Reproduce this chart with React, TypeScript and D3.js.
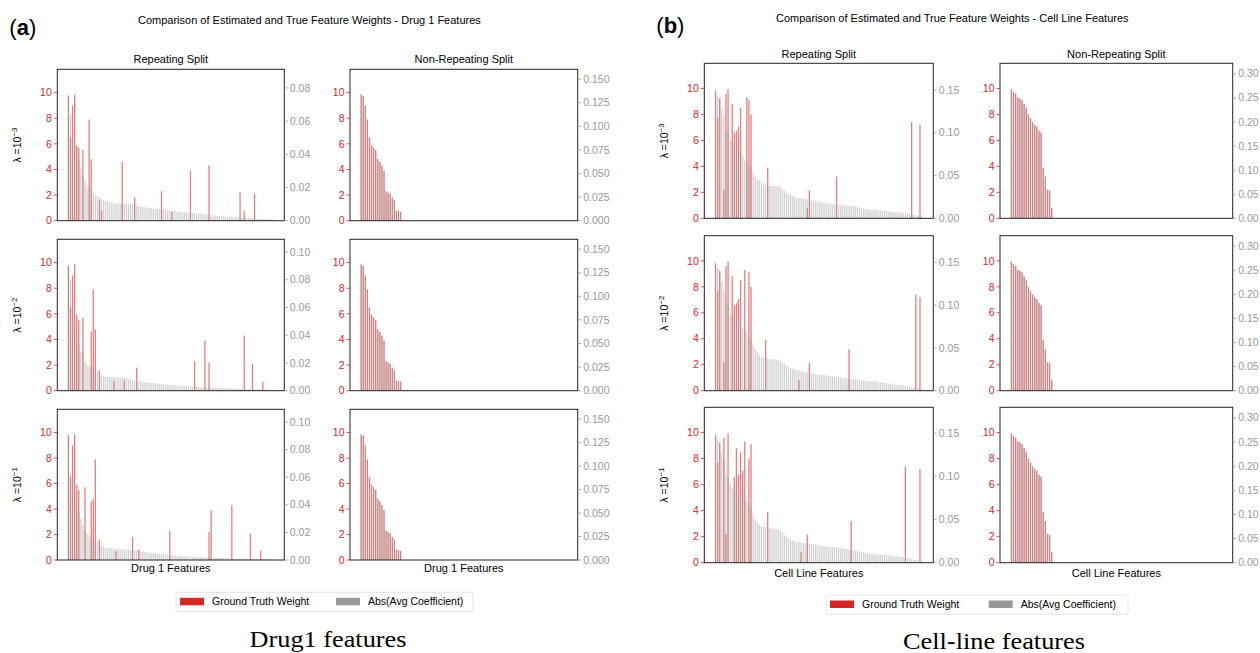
import React from 'react';
import * as d3 from 'd3';

const NUM_FEATURES = 100;

// ground-truth weights (sorted), shared by every panel of a feature set
const drugTrueWeights = [9.85, 9.75, 9.0, 7.9, 6.5, 5.9, 5.7, 5.5, 4.8, 4.6, 4.3, 3.9, 2.3, 2.2, 2.1, 1.8, 1.6, 0.8, 0.75, 0.7];
const cellTrueWeights = [9.95, 9.75, 9.6, 9.3, 9.25, 9.1, 8.8, 8.5, 8.0, 7.7, 7.4, 7.2, 7.05, 6.75, 6.6, 3.9, 3.2, 2.2, 2.15, 0.8];

// rank position of each true feature in the sorted coefficient order
const drugRepPos1 = [3, 0, 2, 10, 1, 4, 5, 7, 11, 26, 68, 59, 45, 83, 90, 32, 15, 16, 85, 50];
const drugRepPos2 = [3, 0, 2, 12, 1, 4, 7, 5, 13, 11, 85, 66, 61, 68, 89, 33, 15, 27, 22, 94];
const drugRepPos3 = [3, 0, 2, 13, 1, 4, 8, 5, 12, 11, 79, 69, 49, 68, 88, 31, 15, 34, 93, 23];
const cellRepPos1 = [6, 0, 5, 15, 2, 16, 8, 12, 17, 1, 94, 98, 11, 10, 9, 25, 58, 4, 45, 44];
const cellRepPos2 = [6, 0, 5, 14, 2, 16, 8, 12, 17, 1, 96, 98, 11, 10, 9, 24, 64, 4, 45, 40];
const cellRepPos3 = [6, 0, 4, 14, 2, 17, 10, 12, 16, 1, 91, 98, 13, 11, 9, 25, 65, 5, 44, 41];
const nonRepPos = [0, 1, 2, 3, 4, 5, 6, 7, 8, 9, 10, 11, 12, 13, 14, 15, 16, 17, 18, 19];

// abs(avg coefficient), sorted descending
const drugRepCoef1 = [
  0.076, 0.064, 0.050, 0.046, 0.044, 0.038, 0.032, 0.027, 0.024, 0.021,
  0.020, 0.018, 0.017, 0.0155, 0.015, 0.014, 0.013, 0.0125, 0.012, 0.0115,
  0.011, 0.0106, 0.0105, 0.0105, 0.0104, 0.0104, 0.0103, 0.0103, 0.0102, 0.0102,
  0.0101, 0.0099, 0.0094, 0.0091, 0.0088, 0.0086, 0.0084, 0.0082, 0.0080, 0.0078,
  0.0076, 0.0075, 0.0073, 0.0071, 0.0070, 0.0068, 0.0067, 0.0065, 0.0063, 0.0062,
  0.0060, 0.0059, 0.0057, 0.0056, 0.0054, 0.0053, 0.0052, 0.0050, 0.0049, 0.0048,
  0.0046, 0.0045, 0.0043, 0.0042, 0.0040, 0.0039, 0.0037, 0.0036, 0.0035, 0.0033,
  0.0032, 0.0031, 0.0030, 0.0029, 0.0028, 0.0027, 0.0026, 0.0025, 0.0024, 0.0023,
  0.0022, 0.0021, 0.0020, 0.0019, 0.0018, 0.0017, 0.0016, 0.0015, 0.0014, 0.0013,
  0.0012, 0.0011, 0.0011, 0.0010, 0.0010, 0.0009, 0.0009, 0.0008, 0.0008, 0.0007,
];
const drugRepCoef2 = [
  0.091, 0.080, 0.062, 0.046, 0.037, 0.033, 0.028, 0.027, 0.021, 0.019,
  0.018, 0.0165, 0.0154, 0.0145, 0.0135, 0.013, 0.0115, 0.0105, 0.0100, 0.0099,
  0.0098, 0.0098, 0.0097, 0.0097, 0.0096, 0.0096, 0.0095, 0.0094, 0.0092, 0.0089,
  0.0085, 0.0078, 0.0072, 0.0070, 0.0068, 0.0066, 0.0064, 0.0062, 0.0060, 0.0058,
  0.0056, 0.0055, 0.0053, 0.0052, 0.0050, 0.0049, 0.0047, 0.0045, 0.0043, 0.0042,
  0.0041, 0.0040, 0.0038, 0.0037, 0.0036, 0.0035, 0.0034, 0.0033, 0.0032, 0.0031,
  0.0030, 0.0029, 0.0028, 0.0027, 0.0026, 0.0026, 0.0025, 0.0024, 0.0024, 0.0023,
  0.0022, 0.0022, 0.0021, 0.0020, 0.0019, 0.0019, 0.0018, 0.0018, 0.0017, 0.0016,
  0.0016, 0.0015, 0.0015, 0.0014, 0.0014, 0.0013, 0.0012, 0.0012, 0.0011, 0.0011,
  0.0010, 0.0010, 0.0009, 0.0009, 0.0008, 0.0008, 0.0007, 0.0006, 0.0006, 0.0005,
];
const drugRepCoef3 = [
  0.091, 0.062, 0.048, 0.046, 0.036, 0.035, 0.030, 0.025, 0.021, 0.019,
  0.018, 0.017, 0.016, 0.0148, 0.013, 0.012, 0.0105, 0.0097, 0.0092, 0.0087,
  0.0085, 0.0083, 0.0081, 0.0080, 0.0079, 0.0078, 0.0077, 0.0077, 0.0076, 0.0076,
  0.0075, 0.0074, 0.0071, 0.0068, 0.0066, 0.0063, 0.0061, 0.0058, 0.0056, 0.0054,
  0.0052, 0.0050, 0.0048, 0.0046, 0.0045, 0.0043, 0.0041, 0.0039, 0.0038, 0.0036,
  0.0034, 0.0033, 0.0032, 0.0031, 0.0030, 0.0029, 0.0027, 0.0026, 0.0025, 0.0024,
  0.0023, 0.0023, 0.0022, 0.0021, 0.0021, 0.0020, 0.0019, 0.0019, 0.0018, 0.0017,
  0.0016, 0.0016, 0.0015, 0.0015, 0.0014, 0.0013, 0.0013, 0.0012, 0.0011, 0.0010,
  0.0010, 0.0009, 0.0009, 0.0008, 0.0008, 0.0007, 0.0007, 0.0006, 0.0006, 0.0006,
  0.0005, 0.0005, 0.0005, 0.0004, 0.0004, 0.0004, 0.0003, 0.0003, 0.0003, 0.0002,
];
const cellRepCoef1 = [
  0.151, 0.143, 0.140, 0.128, 0.121, 0.103, 0.100, 0.0915, 0.0895, 0.0876,
  0.0818, 0.076, 0.075, 0.072, 0.068, 0.066, 0.062, 0.060, 0.0526, 0.0486,
  0.0447, 0.044, 0.042, 0.041, 0.039, 0.0385, 0.0383, 0.038, 0.0378, 0.0376,
  0.0374, 0.0372, 0.034, 0.032, 0.030, 0.029, 0.027, 0.026, 0.025, 0.024,
  0.0235, 0.0232, 0.0228, 0.0224, 0.022, 0.0215, 0.021, 0.0205, 0.020, 0.0195,
  0.019, 0.0185, 0.0182, 0.0178, 0.0174, 0.017, 0.0166, 0.0162, 0.0158, 0.0155,
  0.0153, 0.0151, 0.0149, 0.0147, 0.0145, 0.0143, 0.0140, 0.0135, 0.0130, 0.0125,
  0.0120, 0.0110, 0.0105, 0.0103, 0.0101, 0.0099, 0.0097, 0.0095, 0.0093, 0.0091,
  0.0089, 0.0087, 0.0085, 0.0083, 0.0080, 0.0077, 0.0075, 0.0072, 0.0070, 0.0068,
  0.0064, 0.0060, 0.0055, 0.0050, 0.0045, 0.0040, 0.0035, 0.0030, 0.0025, 0.0019,
];
const cellRepCoef2 = [
  0.151, 0.144, 0.139, 0.128, 0.118, 0.104, 0.101, 0.0896, 0.088, 0.0865,
  0.080, 0.0768, 0.074, 0.0725, 0.071, 0.0678, 0.064, 0.061, 0.053, 0.0495,
  0.0448, 0.042, 0.0395, 0.038, 0.0375, 0.0372, 0.037, 0.0368, 0.0366, 0.0364,
  0.036, 0.035, 0.0327, 0.031, 0.029, 0.028, 0.0265, 0.025, 0.0245, 0.024,
  0.0235, 0.023, 0.0225, 0.022, 0.0215, 0.021, 0.0205, 0.020, 0.0195, 0.019,
  0.0187, 0.0184, 0.0181, 0.0178, 0.0175, 0.0172, 0.0169, 0.0166, 0.0163, 0.016,
  0.0155, 0.015, 0.0146, 0.0143, 0.014, 0.0137, 0.0134, 0.0131, 0.0128, 0.0125,
  0.0122, 0.0119, 0.0117, 0.0115, 0.0112, 0.011, 0.0107, 0.0104, 0.0101, 0.0098,
  0.0095, 0.0092, 0.0088, 0.0085, 0.0082, 0.0078, 0.0074, 0.007, 0.0066, 0.0062,
  0.0058, 0.0055, 0.0051, 0.0047, 0.0043, 0.0039, 0.0035, 0.0031, 0.0027, 0.0023,
];
const cellRepCoef3 = [
  0.150, 0.1425, 0.136, 0.128, 0.118, 0.1045, 0.0986, 0.0908, 0.087, 0.084,
  0.080, 0.077, 0.075, 0.074, 0.072, 0.070, 0.066, 0.0615, 0.0557, 0.050,
  0.046, 0.044, 0.042, 0.0415, 0.041, 0.0405, 0.040, 0.040, 0.0395, 0.039,
  0.0385, 0.037, 0.0343, 0.032, 0.030, 0.0285, 0.027, 0.026, 0.025, 0.0245,
  0.024, 0.0235, 0.023, 0.0225, 0.022, 0.0218, 0.0215, 0.021, 0.0205, 0.020,
  0.0198, 0.0195, 0.0193, 0.019, 0.0187, 0.0184, 0.0181, 0.0178, 0.0175, 0.0172,
  0.0169, 0.0166, 0.0163, 0.016, 0.0155, 0.015, 0.0145, 0.014, 0.0135, 0.013,
  0.0125, 0.012, 0.0115, 0.011, 0.0106, 0.0102, 0.0099, 0.0097, 0.0095, 0.0093,
  0.0091, 0.009, 0.0088, 0.0086, 0.0083, 0.008, 0.0077, 0.0073, 0.007, 0.0066,
  0.0063, 0.0059, 0.0055, 0.005, 0.0045, 0.0038, 0.0032, 0.0026, 0.002, 0.0015,
];
// non-repeating split: only the true features get a non-zero coefficient
const drugNonRepCoef = [0.1337, 0.1322, 0.1222, 0.1072, 0.0883, 0.0801, 0.0774, 0.0747, 0.0652, 0.0624,
  0.0584, 0.0529, 0.0312, 0.0299, 0.0285, 0.0244, 0.0217, 0.0109, 0.0102, 0.0095];
const cellNonRepCoef = [0.268, 0.2626, 0.2586, 0.2505, 0.2492, 0.2451, 0.237, 0.229, 0.2155, 0.2074,
  0.1993, 0.1939, 0.1899, 0.1818, 0.1778, 0.105, 0.0862, 0.0593, 0.0579, 0.0215];

const leftTicks = [0, 2, 4, 6, 8, 10];
const drugRepTicks1 = [0, 0.02, 0.04, 0.06, 0.08];
const drugRepTicks23 = [0, 0.02, 0.04, 0.06, 0.08, 0.1];
const drugNonRepTicks = [0, 0.025, 0.05, 0.075, 0.1, 0.125, 0.15];
const cellRepTicks = [0, 0.05, 0.1, 0.15];
const cellNonRepTicks = [0, 0.05, 0.1, 0.15, 0.2, 0.25, 0.3];
const lambdaExps = ['\u22123', '\u22122', '\u22121'];

const RED = '#d62728';
const GRAY = '#999999';
const FONT = 'Liberation Sans, Arial, sans-serif';
const SERIF = "'Liberation Serif', 'DejaVu Serif', serif";

type PanelProps = {
  x0: number; x1: number; y0: number; y1: number;
  weights: number[]; positions: number[]; coefs: number[];
  rTicks: number[]; rFmt: string;
};

const Panel = ({ x0, x1, y0, y1, weights, positions, coefs, rTicks, rFmt }: PanelProps) => {
  const span = NUM_FEATURES - 1 + 0.8;
  const x = d3.scaleLinear()
    .domain([-0.4 - 0.05 * span, NUM_FEATURES - 0.6 + 0.05 * span])
    .range([x0, x1]);
  const yL = d3.scaleLinear().domain([0, (d3.max(weights) as number) * 1.2]).range([y1, y0]);
  const yR = d3.scaleLinear().domain([0, (d3.max(coefs) as number) * 1.2]).range([y1, y0]);
  const bw = (x(1) - x(0)) * 0.62;
  const fmt = d3.format(rFmt);
  const fs = 10.5;
  return (
    <g>
      {weights.map((w, k) => (
        <rect key={'r' + k} x={x(positions[k]) - bw / 2} y={yL(w)} width={bw} height={y1 - yL(w)}
          fill={RED} fillOpacity={0.6} />
      ))}
      {coefs.map((c, i) => (
        <rect key={'g' + i} x={x(i) - bw / 2} y={yR(c)} width={bw} height={y1 - yR(c)}
          fill={GRAY} fillOpacity={0.45} />
      ))}
      <rect x={x0} y={y0} width={x1 - x0} height={y1 - y0} fill="none" stroke="#222" strokeWidth={1} />
      {leftTicks.map((t) => (
        <g key={'lt' + t} transform={`translate(${x0},${yL(t)})`}>
          <line x1={-3.5} x2={0} stroke={RED} strokeWidth={0.8} />
          <text x={-5.5} dy="0.35em" textAnchor="end" fill={RED} fontSize={fs} fontFamily={FONT}>{t}</text>
        </g>
      ))}
      {rTicks.map((t) => (
        <g key={'rt' + t} transform={`translate(${x1},${yR(t)})`}>
          <line x1={0} x2={3.5} stroke={GRAY} strokeWidth={0.8} />
          <text x={5.5} dy="0.35em" textAnchor="start" fill={GRAY} fontSize={fs} fontFamily={FONT}>{fmt(t)}</text>
        </g>
      ))}
    </g>
  );
};

type BlockProps = {
  label: string; title: string; xlabel: string; caption: string;
  repX: [number, number]; nonX: [number, number];
  rows: [number, number][];
  weights: number[];
  repPos: number[][]; repCoef: number[][]; repTicks: number[][]; repFmt: string;
  nonCoef: number[]; nonTicks: number[]; nonFmt: string;
  titleX: number; titleY: number; colTitleY: number; ylabX: number; xlabY: number;
  legend: { x: number; y: number; w: number; h: number; grayX: number };
  captionX: number; captionY: number; captionW: number;
};

const Block = (p: BlockProps) => {
  const repMid = (p.repX[0] + p.repX[1]) / 2;
  const nonMid = (p.nonX[0] + p.nonX[1]) / 2;
  const lg = p.legend;
  return (
    <g>
      <text x={p.repX[0] - 48} y={p.titleY + 11} fontSize={22} fontFamily={FONT}>
        (<tspan fontWeight="bold">{p.label}</tspan>)
      </text>
      <text x={p.titleX} y={p.titleY} textAnchor="start" fontSize={11} fontFamily={FONT}>{p.title}</text>
      <text x={repMid} y={p.colTitleY} textAnchor="middle" fontSize={11} fontFamily={FONT}>Repeating Split</text>
      <text x={nonMid} y={p.colTitleY} textAnchor="middle" fontSize={11} fontFamily={FONT}>Non-Repeating Split</text>
      {p.rows.map(([y0, y1], r) => (
        <g key={r}>
          <Panel x0={p.repX[0]} x1={p.repX[1]} y0={y0} y1={y1} weights={p.weights} positions={p.repPos[r]}
            coefs={p.repCoef[r]} rTicks={p.repTicks[r]} rFmt={p.repFmt} />
          <Panel x0={p.nonX[0]} x1={p.nonX[1]} y0={y0} y1={y1} weights={p.weights} positions={nonRepPos}
            coefs={p.nonCoef} rTicks={p.nonTicks} rFmt={p.nonFmt} />
          <text transform={`translate(${p.ylabX},${(y0 + y1) / 2}) rotate(-90)`} textAnchor="middle"
            fontSize={10.5} fontFamily={FONT}>
            {'\u03bb =10'}<tspan dy={-4} fontSize={8}>{lambdaExps[r]}</tspan>
          </text>
        </g>
      ))}
      <text x={repMid} y={p.xlabY} textAnchor="middle" fontSize={11} fontFamily={FONT}>{p.xlabel}</text>
      <text x={nonMid} y={p.xlabY} textAnchor="middle" fontSize={11} fontFamily={FONT}>{p.xlabel}</text>
      <rect x={lg.x} y={lg.y} width={lg.w} height={lg.h} rx={2} fill="#fff" stroke="#ddd" strokeWidth={0.8} />
      <rect x={lg.x + 4} y={lg.y + 5.5} width={24} height={7.5} fill={RED} />
      <text x={lg.x + 36} y={lg.y + 13} fontSize={10.5} fontFamily={FONT}>Ground Truth Weight</text>
      <rect x={lg.grayX} y={lg.y + 5.5} width={24} height={7.5} fill={GRAY} />
      <text x={lg.grayX + 32} y={lg.y + 13} fontSize={10.5} fontFamily={FONT}>Abs(Avg Coefficient)</text>
      <text x={p.captionX - p.captionW / 2} y={p.captionY} fontSize={23} fontFamily={SERIF}
        textLength={p.captionW} lengthAdjust="spacingAndGlyphs">{p.caption}</text>
    </g>
  );
};

export default function App() {
  return (
    <svg width={1260} height={653} style={{ display: 'block', position: 'absolute', left: 0, top: 0, background: '#fff' }}>
      <rect width={1260} height={653} fill="#fff" />
      <Block label="a" title="Comparison of Estimated and True Feature Weights - Drug 1 Features"
        xlabel="Drug 1 Features" caption="Drug1 features"
        repX={[57.3, 284.3]} nonX={[350, 577.7]}
        rows={[[69.3, 220.7], [239.3, 390.7], [409.3, 560]]}
        weights={drugTrueWeights}
        repPos={[drugRepPos1, drugRepPos2, drugRepPos3]}
        repCoef={[drugRepCoef1, drugRepCoef2, drugRepCoef3]}
        repTicks={[drugRepTicks1, drugRepTicks23, drugRepTicks23]} repFmt=".2f"
        nonCoef={drugNonRepCoef} nonTicks={drugNonRepTicks} nonFmt=".3f"
        titleX={138} titleY={24} colTitleY={63} ylabX={21} xlabY={572}
        legend={{ x: 176, y: 592.3, w: 297, h: 19.4, grayX: 336 }}
        captionX={328} captionY={647} captionW={157} />
      <Block label="b" title="Comparison of Estimated and True Feature Weights - Cell Line Features"
        xlabel="Cell Line Features" caption="Cell-line features"
        repX={[704.3, 933.3]} nonX={[1000, 1232.7]}
        rows={[[63.3, 218.3], [235.7, 390.7], [407.3, 562.7]]}
        weights={cellTrueWeights}
        repPos={[cellRepPos1, cellRepPos2, cellRepPos3]}
        repCoef={[cellRepCoef1, cellRepCoef2, cellRepCoef3]}
        repTicks={[cellRepTicks, cellRepTicks, cellRepTicks]} repFmt=".2f"
        nonCoef={cellNonRepCoef} nonTicks={cellNonRepTicks} nonFmt=".2f"
        titleX={776} titleY={22} colTitleY={58} ylabX={668} xlabY={577}
        legend={{ x: 826, y: 595, w: 302, h: 19.4, grayX: 988.7 }}
        captionX={994} captionY={649} captionW={182} />
    </svg>
  );
}
